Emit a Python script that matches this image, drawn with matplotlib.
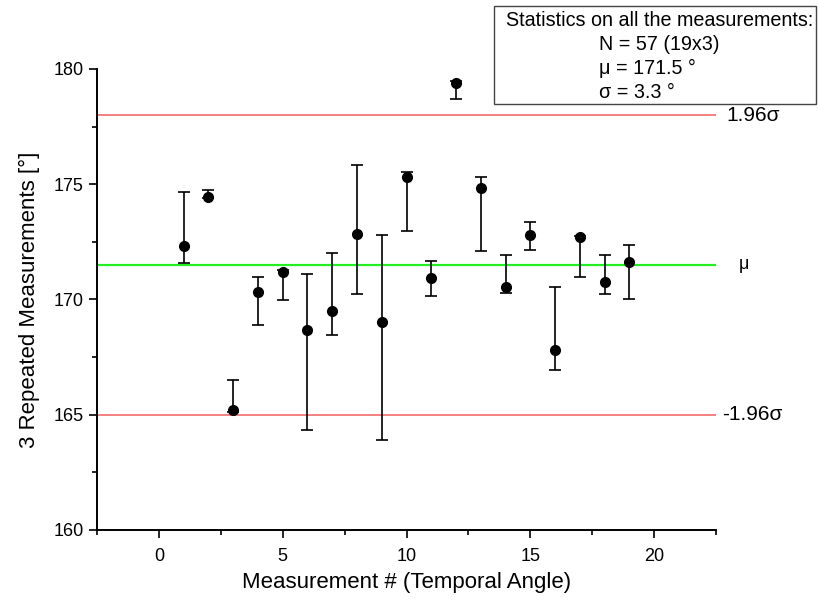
import numpy as np
import matplotlib.pyplot as plt
from matplotlib.patches import Rectangle
from matplotlib.ticker import MultipleLocator

plt.rcParams['font.family'] = ['Liberation Sans', 'DejaVu Sans']

# mean of 3 repeated measurements and their min / max
meas = [1, 2, 3, 4, 5, 6, 7, 8, 9, 10, 11, 12, 13, 14, 15, 16, 17, 18, 19]
media = [172.33, 174.45, 165.2, 170.34, 171.2, 168.68, 169.49, 172.83, 169.01, 175.33,
         170.92, 179.4, 174.84, 170.56, 172.81, 167.82, 172.7, 170.77, 171.64]
alto = [174.65, 174.75, 166.5, 170.98, 171.3, 171.1, 172.03, 175.84, 172.8, 175.52,
        171.68, 179.5, 175.31, 171.93, 173.36, 170.56, 172.75, 171.93, 172.36]
bajo = [171.58, 174.4, 165.1, 168.9, 169.99, 164.34, 168.47, 170.23, 163.9, 172.99,
        170.15, 178.7, 172.12, 170.27, 172.16, 166.95, 170.98, 170.24, 170.01]

mu = 171.5
lim_sup = 178.0
lim_inf = 165.0

fig = plt.figure(figsize=(8.18, 6), dpi=100)
ax = fig.add_axes([0.1186, 0.1167, 0.7567, 0.7683])

ax.axhline(lim_sup, color='#F48080', lw=1.4, zorder=1)
ax.axhline(lim_inf, color='#F48080', lw=1.4, zorder=1)
ax.axhline(mu, color='#22EE22', lw=1.6, zorder=1)

media = np.array(media)
err = [media - np.array(bajo), np.array(alto) - media]
ax.errorbar(meas, media, yerr=err, fmt='o', color='black', ms=7,
            ecolor='black', elinewidth=1.2, capsize=4, capthick=1.2, zorder=3)

ax.set_xlim(-2.5, 22.5)
ax.set_ylim(160, 180)
ax.xaxis.set_major_locator(MultipleLocator(5))
ax.xaxis.set_minor_locator(MultipleLocator(2.5))
ax.yaxis.set_major_locator(MultipleLocator(5))
ax.yaxis.set_minor_locator(MultipleLocator(2.5))
ax.tick_params(which='major', length=6, width=1.2, labelsize=13, direction='out')
ax.tick_params(axis='x', which='major', pad=7)
ax.tick_params(which='minor', length=3.5, width=1.2, direction='out')
for s in ['top', 'right']:
    ax.spines[s].set_visible(False)
for s in ['left', 'bottom']:
    ax.spines[s].set_linewidth(1.4)

ax.set_xlabel('Measurement # (Temporal Angle)', fontsize=16, labelpad=5)
ax.set_ylabel('3 Repeated Measurements [°]', fontsize=16, labelpad=10)

ax.text(22.9, lim_sup, '1.96σ', fontsize=15, va='center', ha='left', clip_on=False)
ax.text(23.4, mu, 'μ', fontsize=13, va='center', ha='left', clip_on=False)
ax.text(22.75, lim_inf, '-1.96σ', fontsize=15, va='center', ha='left', clip_on=False)

# cuadro de estadisticas
fig.patches.append(Rectangle((494 / 818, 1 - 104 / 600), 322 / 818, 98 / 600,
                             transform=fig.transFigure, fill=False,
                             edgecolor='#444444', lw=1.0))
fig.text(506 / 818, 1 - 20 / 600, 'Statistics on all the measurements:',
         fontsize=14.2, va='center', ha='left')
fig.text(599 / 818, 1 - 45 / 600, 'N = 57 (19x3)', fontsize=14.2, va='center', ha='left')
fig.text(599 / 818, 1 - 68 / 600, 'μ = 171.5 °', fontsize=14.2, va='center', ha='left')
fig.text(599 / 818, 1 - 92 / 600, 'σ = 3.3 °', fontsize=14.2, va='center', ha='left')

fig.savefig('out.png', dpi=100)
